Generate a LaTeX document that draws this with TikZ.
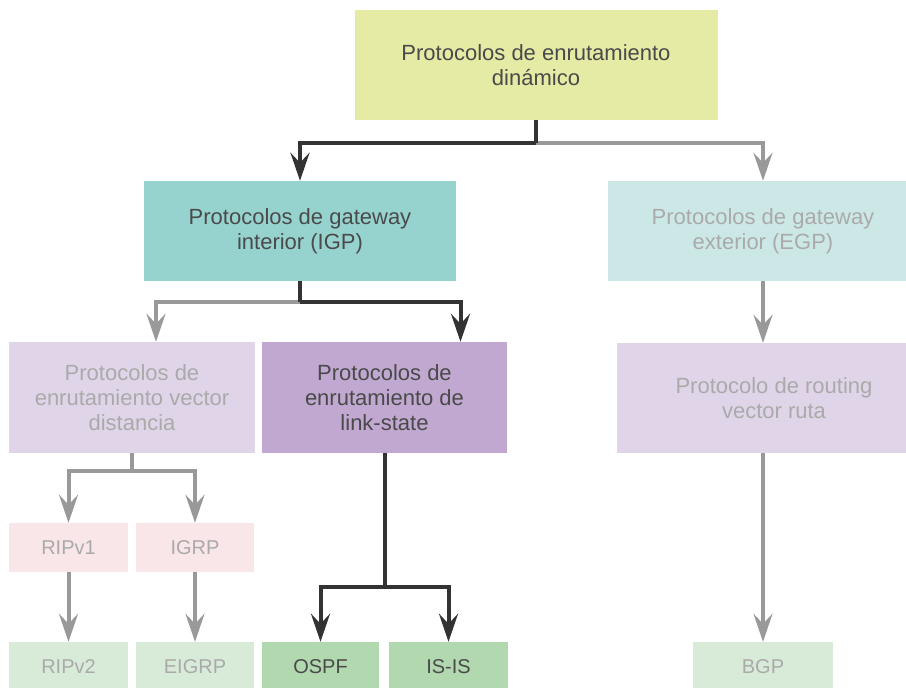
\documentclass[tikz,border=0pt]{standalone}
\usepackage{fontspec}
\setmainfont{Liberation Sans}
\usetikzlibrary{arrows.meta}

\definecolor{dynfill}{HTML}{E5EAA5}
\definecolor{igpfill}{HTML}{96D3CF}
\definecolor{egpfill}{HTML}{CCE8E6}
\definecolor{palelilac}{HTML}{E0D4E8}
\definecolor{lilac}{HTML}{C0A8D0}
\definecolor{palepink}{HTML}{F8E6E8}
\definecolor{palegreen}{HTML}{D8EBD8}
\definecolor{leafgreen}{HTML}{B2D8B0}
\definecolor{activetext}{HTML}{4A4A4A}
\definecolor{fadedtext}{HTML}{AAAAAA}
\definecolor{darkline}{HTML}{333333}
\definecolor{grayline}{HTML}{999999}

\begin{document}
\begin{tikzpicture}[x=1pt, y=-1pt,
  protobox/.style={inner sep=0pt, align=center, text=activetext,
    font=\fontsize{22}{25}\selectfont},
  leafbox/.style={protobox, minimum height=50pt, font=\fontsize{20}{24}\selectfont},
  fadedbox/.style={text=fadedtext},
  darkarrow/.style={-{Stealth[length=28pt, width=19pt, inset=10pt]}, line width=4pt, draw=darkline},
  grayarrow/.style={-{Stealth[length=28pt, width=19pt, inset=10pt]}, line width=4pt, draw=grayline},
  darkstem/.style={line width=4pt, draw=darkline},
  graystem/.style={line width=4pt, draw=grayline}
]
\useasboundingbox (0,0) rectangle (906,688);
\clip (0,0) rectangle (906,688);

% top level
\node[protobox, fill=dynfill, minimum width=363pt, minimum height=110pt] (dyn) at (536,65)
  {Protocolos de enrutamiento\\dinámico};

% second level
\node[protobox, fill=igpfill, minimum width=312pt, minimum height=100pt] (igp) at (300,231)
  {Protocolos de gateway\\interior (IGP)};
\node[protobox, fadedbox, fill=egpfill, minimum width=310pt, minimum height=100pt] (egp) at (763,231)
  {Protocolos de gateway\\exterior (EGP)};

% third level
\node[protobox, fadedbox, fill=palelilac, minimum width=246pt, minimum height=111pt] (dv) at (132,397.5)
  {Protocolos de\\enrutamiento vector\\distancia};
\node[protobox, fill=lilac, minimum width=245pt, minimum height=111pt] (ls) at (384.5,397.5)
  {Protocolos de\\enrutamiento de\\link-state};
\node[protobox, fadedbox, fill=palelilac, minimum width=314pt, minimum height=110pt] (pv) at (774,398)
  {Protocolo de routing\\vector ruta};

% protocols
\node[leafbox, fadedbox, fill=palepink, minimum width=119pt, minimum height=49pt] (ripv1) at (68.5,547.5) {RIPv1};
\node[leafbox, fadedbox, fill=palepink, minimum width=118pt, minimum height=49pt] (igrp) at (195,547.5) {IGRP};
\node[leafbox, fadedbox, fill=palegreen, minimum width=119pt] (ripv2) at (68.5,667) {RIPv2};
\node[leafbox, fadedbox, fill=palegreen, minimum width=118pt] (eigrp) at (195,667) {EIGRP};
\node[leafbox, fill=leafgreen, minimum width=117pt] (ospf) at (320.5,667) {OSPF};
\node[leafbox, fill=leafgreen, minimum width=119pt] (isis) at (448.5,667) {IS-IS};
\node[leafbox, fadedbox, fill=palegreen, minimum width=140pt] (bgp) at (763,667) {BGP};

% branch points
\coordinate (dynsplit) at (536,143);
\coordinate (igpsplit) at (300,302);
\coordinate (dvsplit) at (132,471);
\coordinate (lssplit) at (384.5,587);

% connectors
\draw[grayarrow] (dynsplit) -| (egp.north);
\draw[darkstem] (dyn.south) -- (dynsplit);
\draw[darkarrow] (dynsplit) -| (igp.north);

\draw[grayarrow] (igpsplit) -| ([xshift=24pt]dv.north);
\draw[darkstem] (igp.south) -- (igpsplit);
\draw[darkarrow] (igpsplit) -| ([xshift=76pt]ls.north);

\draw[graystem] (dv.south) -- (dvsplit);
\draw[grayarrow] (dvsplit) -| (ripv1.north);
\draw[grayarrow] (dvsplit) -| (igrp.north);
\draw[grayarrow] (ripv1.south) -- (ripv2.north);
\draw[grayarrow] (igrp.south) -- (eigrp.north);

\draw[darkstem] (ls.south) -- (lssplit);
\draw[darkarrow] (lssplit) -| (ospf.north);
\draw[darkarrow] (lssplit) -| (isis.north);

\draw[grayarrow] (egp.south) -- (egp.south |- pv.north);
\draw[grayarrow] (egp.south |- pv.south) -- (bgp.north);
\end{tikzpicture}
\end{document}
